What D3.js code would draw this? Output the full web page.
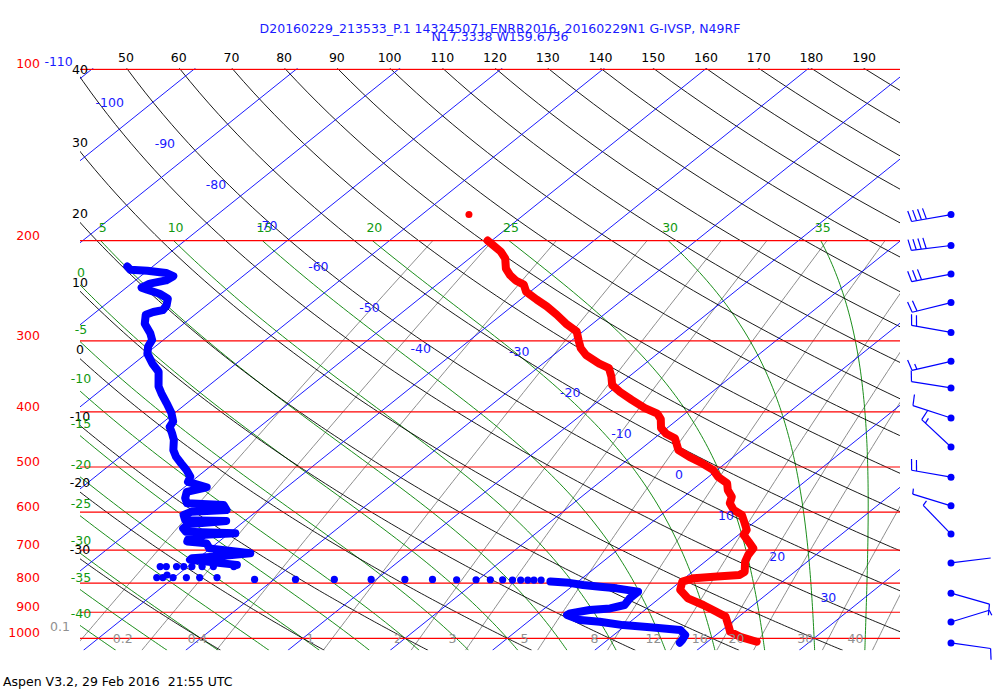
<!DOCTYPE html>
<html><head><meta charset="utf-8">
<script src="https://cdn.jsdelivr.net/npm/d3@7"></script>
<style>
body{margin:0;background:#fff}
svg{font-family:"DejaVu Sans",sans-serif;font-size:12.5px}
</style>
</head><body>
<svg id="c" width="1000" height="700"></svg>
<script>
// ---------------- data ----------------
const titleLine1 = "D20160229_213533_P.1 143245071 ENRR2016, 20160229N1 G-IVSP, N49RF";
const titleLine2 = "N17.3338 W159.6736";
const footerText = "Aspen V3.2, 29 Feb 2016  21:55 UTC";

const isobars = [100,200,300,400,500,600,700,800,900,1000];
const isotherms = d3.range(-110, 51, 10);
const dryAdiabats = d3.range(-30, 191, 10);
const moistAdiabats = d3.range(-40, 36, 5);
const mixingRatios = [0.1,0.2,0.4,1,2,3,5,8,12,16,20,30,40];

// temperature profile (hPa, degC)
const tempP = [200,209,215,224,230,235,239,246,254,261,270,280,289,299,309,318,329,335,347,359,369,381,394,403,412,427,437,445,467,480,493,506,520,534,549,564,579,595,607,628,645,658,676,695,714,733,764,774,779,784,795,822,851,874,898,916,948,974,994,1014];
const tempT = [-50.4,-47.8,-46.5,-45.2,-44.0,-42.8,-41.5,-40.4,-38.4,-36.6,-34.6,-32.6,-30.6,-29.4,-28.2,-26.8,-24.5,-23.0,-21.7,-20.6,-19.0,-16.9,-14.6,-12.7,-11.7,-10.6,-9.4,-8.0,-6.2,-4.3,-2.2,-0.4,0.9,2.6,3.5,4.7,5.3,6.5,7.9,9.2,10.2,10.5,11.8,13.1,13.4,13.9,15.1,15.0,13.0,10.9,10.2,11.0,12.8,15.1,17.2,18.7,20.0,21.0,22.6,24.8];
const tempDotP = [180];
const tempDotT = [-55.4];

// dewpoint profile, upper continuous part
const dewP = [222,225,226,228,231,235,238,242,244,248,253,260,265,267,270,280,291,299,307,316,329,340,361,371,386,402,416,425,436,448,467,480,493,506,520,531,543,553,567,579,583,595,599,607,620,622,630,641,650,654,658,670,676,681,695,709,719,723,728,743];
const dewT = [-82.5,-81.8,-80.0,-77.9,-76.8,-77.0,-78.2,-78.5,-77.7,-76.0,-74.6,-73.9,-73.7,-74.4,-74.8,-73.8,-72.1,-71.1,-70.7,-69.9,-68.2,-66.6,-64.8,-63.7,-62.0,-60.3,-59.1,-58.8,-57.8,-56.8,-55.6,-54.5,-53.2,-51.9,-50.7,-50.3,-47.8,-49.2,-48.6,-47.8,-44.0,-43.1,-46.3,-46.7,-45.9,-41.8,-45.0,-45.1,-44.4,-39.4,-42.2,-43.3,-43.1,-41.0,-40.1,-35.5,-38.7,-40.6,-40.6,-35.4];
// dewpoint profile, lower continuous part
const dew2P = [795,799,806,812,817,828,851,874,886,892,904,910,929,935,948,956,967,987,1007,1018];
const dew2T = [-2.7,-0.7,0.9,2.8,4.6,7.1,7.1,7.4,6.4,4.6,3.1,3.0,4.9,7.0,9.7,12.6,15.9,17.0,17.3,17.4];
// isolated dewpoint samples
const dewDotP = [748,748,748,748,748,748,748,748, 782,782,774,782,782,782,782, 788,788,788,788,788,788,789,789,789,789,790,790,790,790,790];
const dewDotT = [-42.7,-42.1,-41.1,-40.4,-39.6,-38.6,-37.5,-35.5, -41.7,-41.1,-41.0,-40.1,-38.8,-37.5,-35.8, -31.9,-27.9,-24.1,-20.5,-17.2,-14.5,-12.1,-10.2,-8.8,-7.6,-6.6,-5.8,-5.1,-4.5,-3.8];

// winds
const windP   = [180,204,229,257,290,326,363,410,461,521,585,656,737,833,936,1019];
const windDir = [260,263,259,256,280,257,279,288,313,280,287,316,83,106,73,98];
const windSpd = [40,40,30,20,20,15,10,10,15,20,5,5,2,10,5,10];

// ---------------- scales ----------------
const L = 80, R = 900;
const yScale = d3.scaleLog().domain([1000,100]).range([638.3,69.3]);
const tScale = d3.scaleLinear().domain([-41.8,38.4]).range([L,R]);
const SKEW = 1.246;
const KAPPA = 0.2876;
const X = (T,p) => tScale(T) + SKEW*(yScale(1000) - yScale(p));
const TOP = yScale(100), BOT = yScale(1050);

// thermo helpers
const satVap = T => 6.112*Math.exp(17.67*T/(T+243.5));
const satMixApprox = (T,p) => 0.622*satVap(T)/p;
function dTdlnp(T,p){
  const Tk=T+273.15, r=satMixApprox(T,p), Rd=287.04, cp=1005.7, Lv=2.501e6, eps=0.622;
  return (Rd*Tk + Lv*r)/(cp + Lv*Lv*r*eps/(Rd*Tk*Tk));
}
function moistProfile(tw){
  const f=(T,lp)=>dTdlnp(T,Math.exp(lp));
  const rk=(T,lp,h)=>{const k1=f(T,lp),k2=f(T+h*k1/2,lp+h/2),k3=f(T+h*k2/2,lp+h/2),k4=f(T+h*k3,lp+h);return T+h*(k1+2*k2+2*k3+k4)/6;};
  const up=[[tw,1000]]; let T=tw, lp=Math.log(1000); const n=100, h=(Math.log(200)-lp)/n;
  for(let i=0;i<n;i++){T=rk(T,lp,h);lp+=h;up.push([T,Math.exp(lp)]);}
  const down=[]; T=tw; lp=Math.log(1000); const h2=(Math.log(1050)-lp)/6;
  for(let i=0;i<6;i++){T=rk(T,lp,h2);lp+=h2;down.push([T,Math.exp(lp)]);}
  return down.reverse().concat(up);
}
const dryT = (th,p) => (th+273.15)*Math.pow(p/1000,KAPPA) - 273.15;
function mixT(w,p){ const e=w*p/(622+w); const a=Math.log(e/6.112); return 243.5*a/(17.67-a); }
function leftCrossing(pts){
  for(let i=0;i<pts.length-1;i++){
    const x1=X(pts[i][0],pts[i][1]), x2=X(pts[i+1][0],pts[i+1][1]);
    if((x1-L)*(x2-L)<=0 && x1!==x2){
      const t=(L-x1)/(x2-x1), y1=yScale(pts[i][1]), y2=yScale(pts[i+1][1]);
      return y1+t*(y2-y1);
    }
  }
  return null;
}

// ---------------- drawing ----------------
const svg = d3.select("#c");
svg.append("defs").append("clipPath").attr("id","plot")
  .append("rect").attr("x",L).attr("y",TOP-1).attr("width",R-L).attr("height",BOT-TOP+1);
const grid = svg.append("g").attr("clip-path","url(#plot)").attr("fill","none");
const line = d3.line().x(d=>X(d[0],d[1])).y(d=>yScale(d[1]));

// mixing ratio lines
const mixP = d3.range(200,1051,10);
grid.append("g").selectAll("path").data(mixingRatios).join("path")
  .attr("d",w=>line(mixP.map(p=>[mixT(w,p),p]))).attr("stroke","#808080").attr("stroke-width",0.9);
// moist adiabats
const moistPaths = moistAdiabats.map(moistProfile);
grid.append("g").selectAll("path").data(moistPaths).join("path")
  .attr("d",line).attr("stroke","#008000").attr("stroke-width",0.9);
// dry adiabats
const dryP = d3.range(95,1051,5);
const dryPaths = dryAdiabats.map(th=>dryP.map(p=>[dryT(th,p),p]));
grid.append("g").selectAll("path").data(dryPaths).join("path")
  .attr("d",line).attr("stroke","#000").attr("stroke-width",0.9);
// isotherms
grid.append("g").selectAll("path").data(isotherms).join("path")
  .attr("d",T=>line([[T,95],[T,1050]])).attr("stroke","#0000ff").attr("stroke-width",0.9);
// isobars
grid.append("g").selectAll("line").data(isobars).join("line")
  .attr("x1",L).attr("x2",R).attr("y1",p=>yScale(p)).attr("y2",p=>yScale(p))
  .attr("stroke","#ff0000").attr("stroke-width",1.2);

// profiles
const prof = svg.append("g").attr("clip-path","url(#plot)");
const tempData = tempP.map((p,i)=>[tempT[i],p]);
const dewData = dewP.map((p,i)=>[dewT[i],p]);
const dew2Data = dew2P.map((p,i)=>[dew2T[i],p]);
prof.append("path").attr("d",line(tempData)).attr("fill","none").attr("stroke","#ff0000")
  .attr("stroke-width",8).attr("stroke-linejoin","round").attr("stroke-linecap","round");
prof.selectAll("circle.td").data(tempDotP.map((p,i)=>[tempDotT[i],p])).join("circle")
  .attr("class","td").attr("cx",d=>X(d[0],d[1])).attr("cy",d=>yScale(d[1])).attr("r",3.5).attr("fill","#ff0000");
[dewData,dew2Data].forEach(dd=>{
  prof.append("path").attr("d",line(dd)).attr("fill","none").attr("stroke","#0000ff")
    .attr("stroke-width",8).attr("stroke-linejoin","round").attr("stroke-linecap","round");
});
prof.selectAll("circle.dd").data(dewDotP.map((p,i)=>[dewDotT[i],p])).join("circle")
  .attr("class","dd").attr("cx",d=>X(d[0],d[1])).attr("cy",d=>yScale(d[1])).attr("r",3.6).attr("fill","#0000ff");

// ---------------- labels ----------------
const lab = svg.append("g");
// pressure axis
const pAxis = d3.axisLeft(yScale).tickValues(isobars).tickFormat(d3.format("d")).tickSize(0).tickPadding(0);
const gAx = lab.append("g").attr("transform","translate(40,0)").call(pAxis);
gAx.select(".domain").remove();
gAx.selectAll("text").attr("fill","#ff0000").attr("dy","-0.12em").style("font-size","12.5px").style("font-family","DejaVu Sans");

// dry adiabat labels
dryAdiabats.forEach((th,i)=>{
  const xTop = X(dryT(th,100),100);
  if(xTop>=L){
    if(xTop<=R) lab.append("text").attr("x",xTop-1.5).attr("y",TOP-12).attr("dy","0.35em").attr("text-anchor","middle").attr("fill","#000").text(th);
  } else {
    const yc = leftCrossing(dryPaths[i]);
    if(yc!==null) lab.append("text").attr("x",L).attr("y",Math.max(TOP,yc-9)).attr("dy","0.35em").attr("text-anchor","middle").attr("fill","#000").text(th);
  }
});
// moist adiabat labels
moistAdiabats.forEach((tw,i)=>{
  const pts = moistPaths[i];
  const last = pts[pts.length-1];
  const x200 = X(last[0],last[1]);
  if(x200>=L){
    if(x200<=R) lab.append("text").attr("x",x200+2).attr("y",yScale(200)-13).attr("dy","0.35em").attr("text-anchor","middle").attr("fill","#119911").text(tw);
  } else {
    const yc = leftCrossing(pts);
    if(yc!==null) lab.append("text").attr("x",L+1).attr("y",yc-12).attr("dy","0.35em").attr("text-anchor","middle").attr("fill","#119911").text(tw);
  }
});
// isotherm labels
const isoLabelY = T => 103 + 4.1*(T+100) - (T>=-30 ? 38 : 0);
isotherms.filter(T=>T<=30).forEach(T=>{
  const yl = isoLabelY(T), pl = yScale.invert(yl);
  lab.append("text").attr("x",X(T,pl)-28).attr("y",yl).attr("dy","0.35em").attr("text-anchor","end").attr("fill","#1a1aff").text(T);
});
// mixing ratio labels
mixingRatios.forEach(w=>{
  const xb = X(mixT(w,1050),1050);
  const outside = xb < L;
  lab.append("text").attr("x",outside ? L-10 : xb-9).attr("y",yScale(1000)-(outside?12:0)).attr("dy","0.35em")
    .attr("text-anchor","end").attr("fill","#909090").text(w);
});

// title & footer
lab.append("text").attr("x",500).attr("y",32.5).attr("text-anchor","middle").attr("fill","#1a1aff").text(titleLine1);
lab.append("text").attr("x",500).attr("y",41).attr("text-anchor","middle").attr("fill","#1a1aff").text(titleLine2);
lab.append("text").attr("x",3).attr("y",685.5).attr("fill","#000").style("white-space","pre").text(footerText);

// ---------------- wind barbs ----------------
const wb = svg.append("g").attr("stroke","#0000ff").attr("stroke-width",1.2).attr("fill","none");
const WX = 951, STAFF = 40, FL = 11, FS = 5;
windP.forEach((p,i)=>{
  const y0 = yScale(p), a = windDir[i]*Math.PI/180;
  const ux = Math.sin(a), uy = -Math.cos(a);
  const px = -uy, py = ux;
  const ex = WX + ux*STAFF, ey = y0 + uy*STAFF;
  wb.append("line").attr("x1",WX).attr("y1",y0).attr("x2",ex).attr("y2",ey);
  let s = windSpd[i];
  const full = Math.floor(s/10), half = (s%10)>=5 ? 1 : 0;
  let k = 0;
  for(let j=0;j<full;j++,k++){
    const bx = ex - ux*FS*k, by = ey - uy*FS*k;
    wb.append("line").attr("x1",bx).attr("y1",by).attr("x2",bx+px*FL+ux*2).attr("y2",by+py*FL+uy*2);
  }
  if(half){
    const bx = ex - ux*FS*k, by = ey - uy*FS*k;
    wb.append("line").attr("x1",bx).attr("y1",by).attr("x2",bx+px*FL/2+ux*1).attr("y2",by+py*FL/2+uy*1);
  }
  svg.append("circle").attr("cx",WX).attr("cy",y0).attr("r",3.5).attr("fill","#0000ff");
});
</script>
</body></html>
